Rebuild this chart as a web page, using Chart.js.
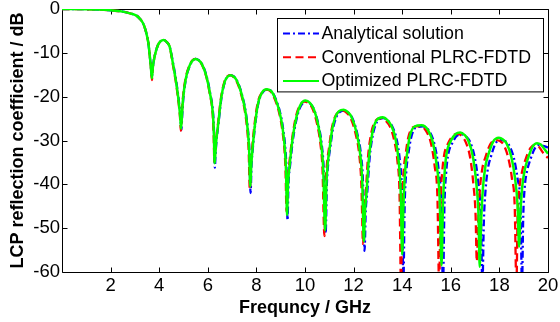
<!DOCTYPE html>
<html><head><meta charset="utf-8">
<script src="https://cdn.jsdelivr.net/npm/chart.js@4/dist/chart.umd.min.js"></script>
<style>html,body{margin:0;padding:0;background:#fff}#wrap{width:560px;height:322px}</style>
</head><body><div id="wrap"><canvas id="c" width="560" height="322"></canvas></div>
<script>
const seriesLabels = ['Analytical solution', 'Conventional PLRC-FDTD', 'Optimized PLRC-FDTD'];
const xTicks = [2, 4, 6, 8, 10, 12, 14, 16, 18, 20];
const yTicks = [0, -10, -20, -30, -40, -50, -60];

const freqOptimized = [0,1.0,1.5,2.0,2.5,2.8,3.06,3.2,3.33,3.42,3.5,3.56,3.61,3.66,3.70,3.74,3.82,3.95,4.05,4.19,4.32,4.43,4.57,4.71,4.82,4.87,4.90,4.94,4.98,5.09,5.26,5.38,5.50,5.62,5.74,5.94,6.08,6.21,6.25,6.28,6.31,6.35,6.42,6.56,6.70,6.82,6.94,7.06,7.18,7.38,7.56,7.65,7.70,7.75,7.79,7.84,7.93,8.07,8.25,8.44,8.62,8.78,8.94,9.07,9.18,9.22,9.26,9.30,9.37,9.48,9.65,9.82,10.02,10.20,10.36,10.53,10.67,10.75,10.83,10.88,10.94,11.02,11.12,11.25,11.40,11.59,11.76,11.91,12.12,12.28,12.36,12.42,12.47,12.53,12.63,12.77,12.94,13.19,13.40,13.56,13.72,13.86,13.94,14.00,14.05,14.12,14.20,14.31,14.51,14.79,15.06,15.27,15.43,15.54,15.62,15.68,15.75,15.82,16.02,16.20,16.39,16.56,16.71,16.91,17.05,17.14,17.19,17.25,17.32,17.42,17.53,17.74,17.98,18.15,18.29,18.49,18.64,18.75,18.81,18.86,18.94,19.05,19.18,19.38,19.55,19.70,19.86,20.0];
const dbOptimized = [0,-0.05,-0.12,-0.3,-0.6,-1.0,-1.5,-2.2,-3.2,-4.5,-6.2,-8.0,-10.6,-13.4,-15.8,-13.2,-10.6,-8.2,-7.4,-7.1,-7.6,-8.6,-12.6,-17.2,-22.0,-25.0,-27.3,-24.0,-20.6,-16.0,-12.8,-11.7,-11.4,-11.7,-12.4,-15.3,-19.0,-24.0,-28.5,-35.2,-33.0,-30.0,-26.6,-20.0,-16.5,-15.4,-15.1,-15.4,-16.2,-19.2,-23.8,-28.0,-32.0,-40.5,-35.5,-32.0,-26.9,-21.5,-18.9,-18.3,-18.8,-20.5,-23.2,-26.9,-32.5,-37.0,-47.0,-40.0,-35.5,-29.9,-24.6,-21.8,-20.9,-21.4,-22.8,-26.1,-31.0,-36.5,-50.5,-40.0,-35.0,-31.5,-27.4,-24.6,-23.3,-23.0,-23.5,-24.6,-28.2,-33.5,-40.0,-53.0,-46.0,-42.0,-34.0,-28.3,-25.4,-24.7,-25.4,-26.7,-29.5,-35.0,-42.0,-56.0,-45.0,-37.0,-33.0,-29.1,-26.8,-26.5,-27.6,-30.6,-36.0,-43.0,-58.5,-44.0,-37.0,-33.2,-29.9,-28.5,-28.2,-28.7,-29.9,-33.7,-39.8,-47.0,-58.8,-48.0,-41.0,-36.0,-33.5,-30.3,-29.4,-29.8,-30.6,-33.7,-38.5,-45.0,-54.2,-47.0,-40.5,-36.5,-34.0,-31.3,-30.6,-30.9,-32.0,-33.0];

const freqConventional = [0,1.0,1.5,2.0,2.5,2.8,3.06,3.2,3.33,3.42,3.5,3.56,3.61,3.66,3.70,3.74,3.82,3.95,4.05,4.19,4.32,4.43,4.56,4.70,4.81,4.86,4.89,4.93,4.97,5.08,5.25,5.37,5.49,5.61,5.73,5.93,6.07,6.20,6.24,6.27,6.30,6.34,6.41,6.55,6.69,6.80,6.92,7.04,7.16,7.36,7.54,7.63,7.68,7.73,7.77,7.82,7.91,8.05,8.23,8.42,8.60,8.76,8.92,9.05,9.16,9.20,9.24,9.28,9.35,9.46,9.62,9.79,9.99,10.17,10.33,10.50,10.64,10.72,10.80,10.85,10.91,10.99,11.09,11.22,11.37,11.55,11.72,11.87,12.08,12.24,12.32,12.39,12.44,12.50,12.59,12.72,12.89,13.13,13.34,13.50,13.66,13.81,13.89,13.95,14.00,14.06,14.14,14.25,14.45,14.72,14.98,15.19,15.34,15.45,15.52,15.58,15.65,15.72,15.92,16.11,16.30,16.47,16.61,16.80,16.93,17.02,17.07,17.13,17.20,17.30,17.42,17.64,17.88,18.04,18.18,18.37,18.52,18.63,18.70,18.75,18.83,18.94,19.07,19.28,19.46,19.61,19.77,20.0];
const dbConventional = [0,-0.05,-0.12,-0.3,-0.6,-1.0,-1.5,-2.2,-3.2,-4.5,-6.2,-8.0,-10.6,-13.4,-16.2,-13.2,-10.6,-8.2,-7.4,-7.1,-7.6,-8.6,-12.6,-17.2,-22.0,-25.0,-27.8,-24.0,-20.6,-16.0,-12.8,-11.7,-11.4,-11.7,-12.4,-15.3,-19.0,-24.0,-28.5,-34.8,-33.0,-30.0,-26.6,-20.0,-16.5,-15.4,-15.1,-15.4,-16.2,-19.2,-23.8,-28.0,-32.0,-41.2,-35.5,-32.0,-26.9,-21.5,-19.0,-18.4,-18.9,-20.6,-23.3,-27.0,-32.5,-37.0,-46.2,-40.0,-35.5,-30.0,-24.7,-22.0,-21.1,-21.6,-23.0,-26.3,-31.0,-36.5,-51.8,-40.0,-35.0,-31.6,-27.6,-24.8,-23.5,-23.2,-23.7,-24.8,-28.4,-33.6,-40.0,-53.6,-46.0,-42.0,-34.0,-28.5,-25.6,-24.9,-25.6,-26.9,-29.7,-35.0,-42.0,-63,-45.0,-37.0,-33.2,-29.3,-27.0,-26.7,-27.8,-30.8,-36.0,-43.0,-63,-44.0,-37.0,-33.5,-30.3,-28.8,-28.5,-29.1,-30.3,-34.0,-40.0,-47.0,-57.6,-48.0,-41.0,-36.3,-33.9,-30.7,-29.9,-30.2,-31.0,-34.1,-38.8,-45.0,-63,-47.0,-40.5,-36.9,-34.4,-31.7,-31.0,-31.3,-32.6,-34.0];

const freqAnalytical = [0,1.0,1.5,2.0,2.5,2.8,3.06,3.2,3.33,3.42,3.5,3.56,3.61,3.66,3.70,3.74,3.82,3.95,4.05,4.20,4.32,4.43,4.58,4.72,4.83,4.88,4.91,4.95,4.99,5.10,5.27,5.39,5.51,5.63,5.75,5.95,6.09,6.22,6.26,6.29,6.32,6.36,6.43,6.57,6.71,6.83,6.95,7.07,7.19,7.39,7.57,7.66,7.71,7.76,7.80,7.85,7.94,8.08,8.26,8.46,8.64,8.80,8.96,9.09,9.20,9.24,9.28,9.32,9.39,9.50,9.67,9.84,10.04,10.22,10.38,10.55,10.69,10.77,10.85,10.90,10.96,11.04,11.14,11.28,11.43,11.62,11.79,11.94,12.15,12.31,12.39,12.45,12.50,12.56,12.66,12.80,12.98,13.23,13.44,13.60,13.77,13.91,13.99,14.05,14.10,14.17,14.25,14.37,14.57,14.85,15.12,15.33,15.49,15.60,15.68,15.74,15.81,15.88,16.08,16.26,16.45,16.63,16.79,16.99,17.14,17.24,17.30,17.36,17.43,17.53,17.64,17.84,18.08,18.25,18.39,18.60,18.75,18.87,18.93,18.98,19.04,19.14,19.27,19.47,19.65,19.80,19.95,20.0];
const dbAnalytical = [0,-0.05,-0.12,-0.3,-0.6,-1.0,-1.5,-2.2,-3.2,-4.5,-6.2,-8.0,-10.6,-13.4,-15.4,-13.2,-10.6,-8.2,-7.4,-7.1,-7.6,-8.6,-12.6,-17.2,-22.0,-25.0,-27.6,-24.0,-20.6,-16.0,-12.8,-11.7,-11.4,-11.7,-12.4,-15.3,-19.0,-24.0,-28.5,-36.2,-33.0,-30.0,-26.6,-20.0,-16.5,-15.4,-15.1,-15.4,-16.2,-19.2,-23.8,-28.0,-32.0,-42.0,-35.5,-32.0,-26.9,-21.5,-19.0,-18.4,-18.9,-20.6,-23.3,-27.0,-32.5,-37.0,-48.2,-40.0,-35.5,-30.0,-24.7,-22.0,-21.1,-21.6,-23.0,-26.3,-31.0,-36.5,-51.2,-40.0,-35.0,-31.6,-27.6,-24.8,-23.5,-23.2,-23.7,-24.8,-28.4,-33.6,-40.0,-55.2,-46.0,-42.0,-34.0,-28.5,-25.6,-24.9,-25.6,-26.9,-29.7,-35.0,-42.0,-62,-45.0,-37.0,-33.2,-29.3,-27.0,-26.8,-27.9,-30.9,-36.2,-43.5,-63,-44.5,-37.3,-33.6,-30.4,-28.9,-28.6,-29.1,-30.3,-34.0,-40.0,-47.5,-63,-48.5,-41.3,-36.3,-33.9,-30.7,-29.9,-30.2,-31.0,-34.1,-38.8,-45.5,-63,-47.5,-40.8,-36.9,-34.4,-31.7,-31.0,-31.2,-31.5,-31.6];

const FONT = "'Liberation Sans', Arial, Helvetica, sans-serif";
const toPts = (fs, ds) => fs.map((f, i) => ({ x: f, y: ds[i] }));

const framePlugin = {
  id: 'frame',
  beforeDatasetsDraw(chart) {
    const ctx = chart.ctx, a = chart.chartArea;
    const xs = chart.scales.x, ys = chart.scales.y;
    const L = Math.round(a.left) + 0.5, R = Math.round(a.right) + 0.5;
    const T = Math.round(a.top) + 0.5, B = Math.round(a.bottom) + 0.5;
    ctx.save();
    ctx.strokeStyle = '#000'; ctx.lineWidth = 1; ctx.setLineDash([]);
    ctx.beginPath();
    ctx.rect(L, T, R - L, B - T);
    const tl = 5;
    xTicks.forEach(v => {
      const px = Math.round(xs.getPixelForValue(v)) + 0.5;
      ctx.moveTo(px, B); ctx.lineTo(px, B - tl);
      ctx.moveTo(px, T); ctx.lineTo(px, T + tl);
    });
    yTicks.forEach(v => {
      const py = Math.round(ys.getPixelForValue(v)) + 0.5;
      ctx.moveTo(L, py); ctx.lineTo(L + tl, py);
      ctx.moveTo(R, py); ctx.lineTo(R - tl, py);
    });
    ctx.stroke();
    ctx.restore();
  },
  afterDatasetsDraw(chart) {
    const ctx = chart.ctx, a = chart.chartArea;
    const bw = 266, bh = 73.4;
    const bx = Math.round(a.right - 271), by = Math.round(a.top + 9.3);
    ctx.save();
    ctx.fillStyle = '#fff';
    ctx.fillRect(bx, by, bw, bh);
    ctx.strokeStyle = '#000'; ctx.lineWidth = 1; ctx.setLineDash([]);
    ctx.strokeRect(bx + 0.5, by + 0.5, bw, bh);
    ctx.font = "17.8px " + FONT;
    ctx.textBaseline = 'middle'; ctx.textAlign = 'left';
    chart.data.datasets.forEach((ds, i) => {
      const cy = by + 15.5 + i * 23.8;
      ctx.strokeStyle = ds.borderColor; ctx.lineWidth = 2;
      ctx.setLineDash(ds.borderDash || []);
      ctx.beginPath(); ctx.moveTo(bx + 6, cy); ctx.lineTo(bx + 42, cy); ctx.stroke();
      ctx.setLineDash([]);
      ctx.fillStyle = '#000';
      ctx.fillText(ds.label, bx + 44.5, cy + 0.5);
    });
    ctx.restore();
  }
};

new Chart(document.getElementById('c'), {
  type: 'line',
  data: {
    datasets: [
      { label: seriesLabels[0], data: toPts(freqAnalytical, dbAnalytical), borderColor: '#0000ff', borderWidth: 2.3, borderDash: [7, 3, 2, 3], order: 2 },
      { label: seriesLabels[1], data: toPts(freqConventional, dbConventional), borderColor: '#ff0000', borderWidth: 2.3, borderDash: [8, 4.5], order: 1 },
      { label: seriesLabels[2], data: toPts(freqOptimized, dbOptimized), borderColor: '#00ff00', borderWidth: 2.5, order: 0 }
    ]
  },
  options: {
    responsive: false, animation: false, devicePixelRatio: 1,
    layout: { padding: { top: 9, right: 12, left: 0, bottom: 0 } },
    elements: { point: { radius: 0 }, line: { cubicInterpolationMode: 'monotone', fill: false } },
    plugins: { legend: { display: false }, tooltip: { enabled: false } },
    scales: {
      x: {
        type: 'linear', min: 0, max: 20,
        afterBuildTicks: s => { s.ticks = xTicks.map(v => ({ value: v })); },
        afterFit: s => { s.height = 50; s.paddingLeft = 0; s.paddingRight = 0; },
        grid: { display: false, drawTicks: false }, border: { display: false },
        ticks: { color: '#000', font: { family: FONT, size: 18.5 }, padding: 3, maxRotation: 0, autoSkip: false },
        title: { display: true, text: 'Frequncy / GHz', color: '#000', font: { family: FONT, size: 18, weight: 'bold' }, padding: { top: 0, bottom: 3.5 } }
      },
      y: {
        type: 'linear', min: -60, max: 0,
        afterBuildTicks: s => { s.ticks = yTicks.map(v => ({ value: v })); },
        afterFit: s => { s.width = 62; s.paddingTop = 0; s.paddingBottom = 0; },
        grid: { display: false, drawTicks: false }, border: { display: false },
        ticks: { color: '#000', font: { family: FONT, size: 18.5 }, padding: 2, autoSkip: false },
        title: { display: true, text: 'LCP reflection coefficient / dB', color: '#000', font: { family: FONT, size: 18, weight: 'bold' }, padding: { top: 7.7, bottom: 0 } }
      }
    }
  },
  plugins: [framePlugin]
});
</script>
</body></html>
